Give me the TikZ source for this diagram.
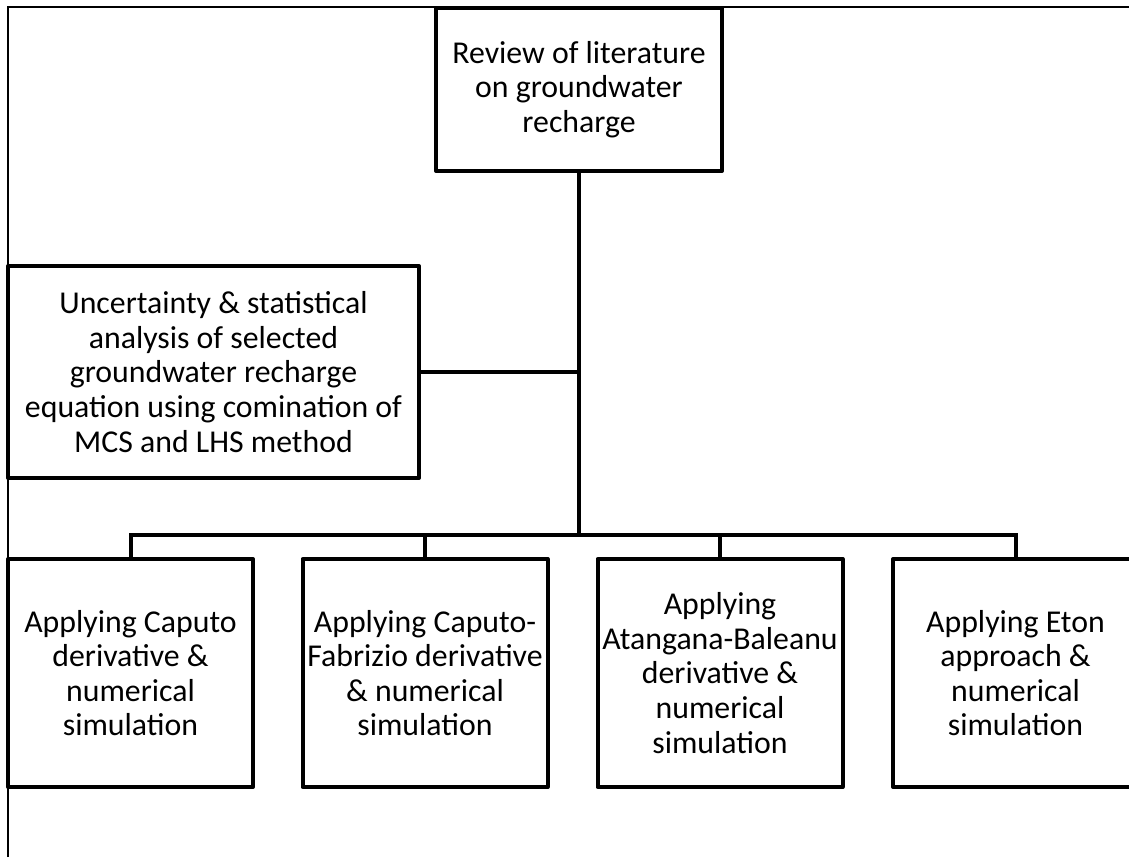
\documentclass[tikz,border=0pt]{standalone}
\usepackage{fontspec}
\setmainfont{Carlito}
\begin{document}
\begin{tikzpicture}[x=0.5pt,y=-0.5pt,
    stagebox/.style={draw,line width=2pt,line join=round,inner sep=0pt,align=center,
      font=\fontsize{15.9}{17.3}\selectfont},
    link/.style={line width=2pt}]
  \clip (0,0) rectangle (1129,857);
  % page frame
  \draw[line width=0.7pt] (8,857) -- (8,7) -- (1129,7);
  \node[stagebox,minimum width=143pt,minimum height=81.5pt] (review) at (579,89.5)
    {Review of literature\\on groundwater\\recharge};
  \node[stagebox,minimum width=205.5pt,minimum height=106pt] (uncert) at (213.5,372)
    {Uncertainty \& statistical\\analysis of selected\\groundwater recharge\\equation using comination of\\MCS and LHS method};
  \foreach \n/\cx/\txt in {
      capu/130.5/{Applying Caputo\\derivative \&\\numerical\\simulation},
      cafa/425/{Applying Caputo-\\Fabrizio derivative\\\& numerical\\simulation},
      atba/720/{Applying\\Atangana-Baleanu\\derivative \&\\numerical\\simulation},
      eton/1015.5/{Applying Eton\\approach \&\\numerical\\simulation}} {
    \node[stagebox,minimum width=122.5pt,minimum height=114pt] (\n) at (\cx,673) {\txt};
  }
  \coordinate (bar) at (579,535);
  \draw[link] (review.south) -- (bar);
  \draw[link] (uncert.east) -- (uncert.east -| review.south);
  \foreach \n in {capu,cafa,atba,eton}
    \draw[link] (\n.north) |- (bar);
\end{tikzpicture}
\end{document}
